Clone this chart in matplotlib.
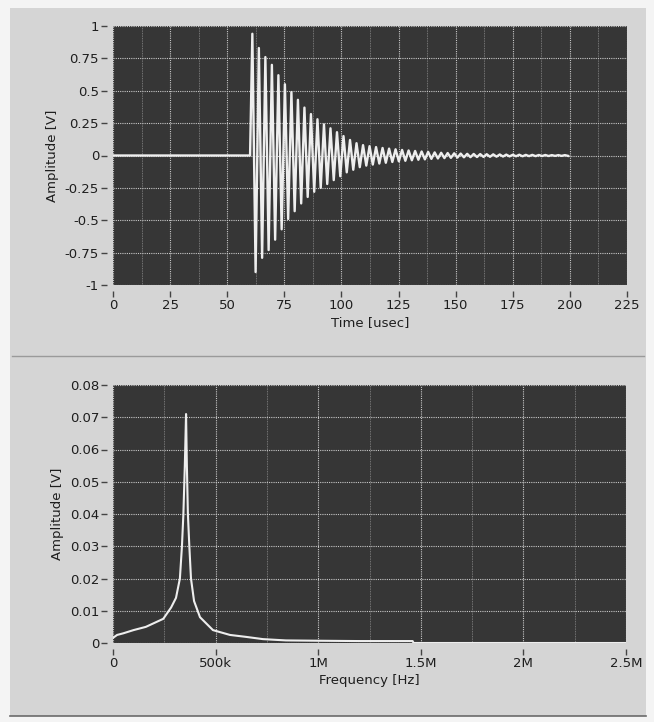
import numpy as np
import matplotlib
matplotlib.use("Agg")
import matplotlib.pyplot as plt
from matplotlib.patches import Rectangle

# time signal: flat until the hit, then a ringing decay (peak per cycle)
t_flat = [0, 60]
t_hit = 61.0        # usec, first crest
period = 2.85       # usec per cycle
pos_peaks = [0.94, 0.83, 0.76, 0.70, 0.62, 0.55, 0.49, 0.43, 0.37, 0.32,
             0.28, 0.24, 0.21, 0.18, 0.15, 0.12, 0.095, 0.08, 0.072, 0.065,
             0.058, 0.053, 0.048, 0.043, 0.039, 0.035, 0.031, 0.028, 0.024, 0.021,
             0.019, 0.017, 0.015, 0.013, 0.012, 0.011, 0.010, 0.009, 0.008, 0.007,
             0.006, 0.006, 0.005, 0.005, 0.004, 0.004, 0.003, 0.003, 0.003]
neg_peaks = [-0.90, -0.79, -0.73, -0.65, -0.57, -0.49, -0.43, -0.37, -0.32, -0.28,
             -0.25, -0.22, -0.19, -0.16, -0.13, -0.11, -0.09, -0.078, -0.07, -0.062,
             -0.056, -0.05, -0.045, -0.041, -0.037, -0.033, -0.03, -0.026, -0.023, -0.02,
             -0.018, -0.016, -0.014, -0.013, -0.012, -0.011, -0.010, -0.009, -0.008, -0.007,
             -0.006, -0.006, -0.005, -0.005, -0.004, -0.004, -0.003, -0.003, -0.003]

# amplitude spectrum
freq = [0, 20e3, 50e3, 100e3, 160e3, 245e3, 283e3, 307e3, 326e3, 336e3, 343e3,
        350e3, 356e3, 360e3, 365e3, 372e3, 380e3, 395e3, 424e3, 487e3, 570e3,
        648e3, 731e3, 843e3, 1.0e6, 1.2e6, 1.46e6, 1.465e6, 2.5e6]
amp = [0.0016, 0.0025, 0.003, 0.004, 0.005, 0.0075, 0.011, 0.014, 0.02, 0.03, 0.04,
       0.055, 0.071, 0.055, 0.04, 0.03, 0.02, 0.013, 0.008, 0.004, 0.0025,
       0.0019, 0.0012, 0.0008, 0.0007, 0.0006, 0.0006, 0.0, 0.0]

t_ticks = [0, 25, 50, 75, 100, 125, 150, 175, 200, 225]
v_ticks = [1, 0.75, 0.5, 0.25, 0, -0.25, -0.5, -0.75, -1]
v_labels = ["1", "0.75", "0.5", "0.25", "0", "-0.25", "-0.5", "-0.75", "-1"]
f_ticks = [0, 0.5e6, 1e6, 1.5e6, 2e6, 2.5e6]
f_labels = ["0", "500k", "1M", "1.5M", "2M", "2.5M"]
a_ticks = [0, 0.01, 0.02, 0.03, 0.04, 0.05, 0.06, 0.07, 0.08]
a_labels = ["0", "0.01", "0.02", "0.03", "0.04", "0.05", "0.06", "0.07", "0.08"]

panel = "#d5d5d5"
plotbg = "#363636"
txt = "#1e1e1e"

fig = plt.figure(figsize=(6.54, 7.22), dpi=100, facecolor="#f4f4f4")
fig.add_artist(Rectangle((10 / 654, 1 - 716 / 722), 636 / 654, 708 / 722,
                         transform=fig.transFigure, facecolor=panel,
                         edgecolor="none", zorder=-10))
fig.add_artist(plt.Line2D([12 / 654, 644 / 654], [1 - 356 / 722] * 2,
                          color="#9a9a9a", lw=1.0, zorder=-5))
fig.add_artist(plt.Line2D([10 / 654, 646 / 654], [1 - 716 / 722] * 2,
                          color="#6a6a6a", lw=1.2, zorder=-5))

ax1 = fig.add_axes([113 / 654, 1 - 285 / 722, 514 / 654, 259 / 722])
ax2 = fig.add_axes([113 / 654, 1 - 643 / 722, 513 / 654, 258 / 722])


def style(ax):
    ax.set_facecolor(plotbg)
    for s in ax.spines.values():
        s.set_visible(False)
    ax.spines["left"].set_position(("outward", 4))
    ax.spines["bottom"].set_position(("outward", 4))
    ax.tick_params(axis="both", which="major", direction="out", length=4,
                   width=1, color="#444444", labelsize=9.5, labelcolor=txt, pad=2)
    ax.tick_params(axis="both", which="minor", length=0)
    ax.grid(True, which="major", color="#c8c8c8", lw=0.8, ls=(0, (1, 1)))
    ax.grid(True, which="minor", color="#8a8a8a", lw=0.6, ls=(0, (1, 1)))
    ax.set_axisbelow(True)


# top: time domain
n = len(pos_peaks)
k = np.arange(n)
t_ring = np.empty(2 * n)
v_ring = np.empty(2 * n)
t_ring[0::2] = t_hit + k * period
t_ring[1::2] = t_hit + k * period + period / 2
v_ring[0::2] = pos_peaks
v_ring[1::2] = neg_peaks
t_all = np.concatenate([t_flat, t_ring])
v_all = np.concatenate([[0, 0], v_ring])

style(ax1)
ax1.plot(t_all, v_all, color="#eeeeee", lw=1.7)
ax1.set_xlim(0, 225)
ax1.set_ylim(-1, 1)
ax1.set_xticks(t_ticks)
ax1.set_xticks(np.array(t_ticks[:-1]) + 12.5, minor=True)
ax1.set_yticks(v_ticks)
ax1.set_yticklabels(v_labels)
ax1.set_xlabel("Time [usec]", fontsize=9.5, color=txt, labelpad=3)
ax1.set_ylabel("Amplitude [V]", fontsize=9.5, color=txt, labelpad=4)

# bottom: spectrum
style(ax2)
ax2.plot(freq, amp, color="#eeeeee", lw=1.5)
ax2.set_xlim(0, 2.5e6)
ax2.set_ylim(0, 0.08)
ax2.set_xticks(f_ticks)
ax2.set_xticklabels(f_labels)
ax2.set_xticks(np.array(f_ticks[:-1]) + 0.25e6, minor=True)
ax2.set_yticks(a_ticks)
ax2.set_yticklabels(a_labels)
ax2.set_xlabel("Frequency [Hz]", fontsize=9.5, color=txt, labelpad=3)
ax2.set_ylabel("Amplitude [V]", fontsize=9.5, color=txt, labelpad=4)

fig.savefig("out.png", dpi=100, facecolor=fig.get_facecolor())
